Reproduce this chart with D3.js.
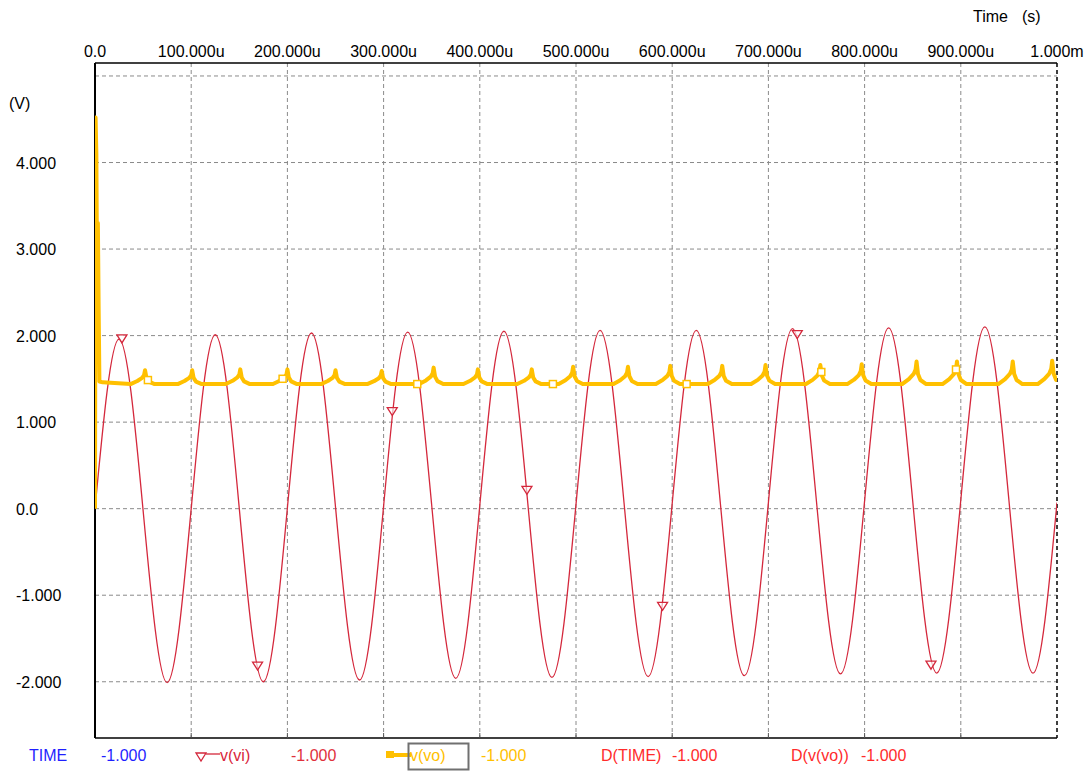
<!DOCTYPE html>
<html>
<head>
<meta charset="utf-8">
<script src="https://cdn.jsdelivr.net/npm/d3@7"></script>
<style>
  html, body { margin: 0; padding: 0; background: #fff; }
  svg text { font-family: "Liberation Sans", Arial, sans-serif; font-size: 16px; }
</style>
</head>
<body>
<div id="chart"></div>
<script>
// time in microseconds, volts
var xTicks = [0, 100, 200, 300, 400, 500, 600, 700, 800, 900, 1000];
var xTickLabels = ['0.0', '100.000u', '200.000u', '300.000u', '400.000u', '500.000u',
                   '600.000u', '700.000u', '800.000u', '900.000u', '1.000m'];
var yTicks = [4, 3, 2, 1, 0, -1, -2];
var yTickLabels = ['4.000', '3.000', '2.000', '1.000', '0.0', '-1.000', '-2.000'];
var yGrid = [5, 4, 3, 2, 1, 0, -1, -2];

// v(vi): read at every quarter period (zero, peak, zero, trough ...)
var viTime = [0, 25, 50, 75, 100, 125, 150, 175, 200, 225, 250, 275, 300, 325, 350, 375,
              400, 425, 450, 475, 500, 525, 550, 575, 600, 625, 650, 675, 700, 725, 750, 775,
              800, 825, 850, 875, 900, 925, 950, 975, 1000];
var viVolt = [0, 1.96, -0.02, -2.01, 0.0, 2.01, 0.0, -2.0, 0.01, 2.03, 0.02, -1.98, 0.03, 2.04, 0.04, -1.96,
              0.04, 2.05, 0.05, -1.95, 0.05, 2.06, 0.06, -1.94, 0.06, 2.06, 0.07, -1.93, 0.07, 2.08, 0.08, -1.91,
              0.09, 2.09, 0.09, -1.90, 0.10, 2.10, 0.10, -1.90, 0.07];

// v(vi) trace markers
var viMarkTime = [28, 169, 309, 449, 590, 730, 869];
var viMarkVolt = [1.95, -1.83, 1.11, 0.20, -1.14, 2.0, -1.82];

// v(vo): start-up spike, then ripple cusps near each zero crossing of vi
var voStartTime = [0, 0.6, 1.4, 2.2, 3.0, 3.8, 4.6, 8];
var voStartVolt = [0, 4.52, 4.1, 2.6, 3.3, 2.3, 1.47, 1.46];
var voCuspTime = [52, 101, 151, 200, 250, 298, 352, 398, 454, 497,
                  554, 598, 652, 697, 754, 797, 854, 896, 954, 995];
var voCuspVolt = [1.60, 1.60, 1.61, 1.61, 1.60, 1.59, 1.63, 1.61, 1.61, 1.64,
                  1.64, 1.65, 1.65, 1.66, 1.66, 1.67, 1.70, 1.70, 1.70, 1.71];
var voBase = 1.44;
var voEndVolt = 1.52;
// cusp profile: offset from cusp (us), fraction of the cusp height above base
var bumpOffset = [-15, -8, -3, -1, 0, 1.5, 4, 10];
var bumpFrac = [0, 0.22, 0.45, 0.65, 1, 0.45, 0.18, 0];
var voMarkTime = [55, 195, 335, 476, 615, 755, 895];

// legend entries
var legendItems = [
    { text: 'TIME', x: 29, color: '#1f1fff' },
    { text: '-1.000', x: 101, color: '#1f1fff' },
    { text: 'v(vi)', x: 220, color: '#d9263a' },
    { text: '-1.000', x: 291, color: '#e0303c' },
    { text: 'v(vo)', x: 410, color: '#ffc000' },
    { text: '-1.000', x: 481, color: '#ffc000' },
    { text: 'D(TIME)', x: 601, color: '#ff2b2b' },
    { text: '-1.000', x: 672, color: '#ff2b2b' },
    { text: 'D(v(vo))', x: 791, color: '#ff2b2b' },
    { text: '-1.000', x: 861, color: '#ff2b2b' }
];

var width = 1087, height = 771;
var plot = { left: 95, right: 1057, top: 63, bottom: 738 };
var viColor = '#d4283c', voColor = '#ffc000', gridColor = '#8a8a8a';

var svg = d3.select('#chart')
    .append('svg')
    .attr('width', width)
    .attr('height', height);

var x = d3.scaleLinear().domain([0, 1000]).range([plot.left, plot.right]);
var y = d3.scaleLinear().domain([-2.65, 5.15]).range([plot.bottom, plot.top]);

svg.append('defs').append('clipPath').attr('id', 'plotclip')
    .append('rect')
    .attr('x', plot.left).attr('y', plot.top)
    .attr('width', plot.right - plot.left).attr('height', plot.bottom - plot.top);

//grid
svg.append('g').selectAll('line.vg')
    .data(xTicks.slice(1, -1))
    .enter().append('line')
    .attr('x1', function(d){ return x(d); })
    .attr('x2', function(d){ return x(d); })
    .attr('y1', plot.top).attr('y2', plot.bottom)
    .attr('stroke', gridColor).attr('stroke-dasharray', '4,3');

svg.append('g').selectAll('line.hg')
    .data(yGrid)
    .enter().append('line')
    .attr('x1', plot.left).attr('x2', plot.right)
    .attr('y1', function(d){ return y(d); })
    .attr('y2', function(d){ return y(d); })
    .attr('stroke', gridColor).attr('stroke-dasharray', '4,3');

//frame
svg.append('line').attr('x1', plot.left).attr('x2', plot.right)
    .attr('y1', plot.top).attr('y2', plot.top)
    .attr('stroke', '#000').attr('stroke-width', 1.5);
svg.append('line').attr('x1', plot.left).attr('x2', plot.right)
    .attr('y1', plot.bottom).attr('y2', plot.bottom)
    .attr('stroke', '#000').attr('stroke-width', 1.5);
svg.append('line').attr('x1', plot.left).attr('x2', plot.left)
    .attr('y1', plot.top).attr('y2', plot.bottom)
    .attr('stroke', '#000').attr('stroke-width', 2);
svg.append('line').attr('x1', plot.right).attr('x2', plot.right)
    .attr('y1', plot.top).attr('y2', plot.bottom)
    .attr('stroke', '#000').attr('stroke-width', 1.5)
    .attr('stroke-dasharray', '4,3');

//small ticks along the bottom edge
svg.append('g').selectAll('line.bt')
    .data(xTicks.slice(1, -1))
    .enter().append('line')
    .attr('x1', function(d){ return x(d); })
    .attr('x2', function(d){ return x(d); })
    .attr('y1', plot.bottom - 5).attr('y2', plot.bottom)
    .attr('stroke', '#555');

//axis labels
svg.append('g').selectAll('text')
    .data(xTicks)
    .enter().append('text')
    .attr('x', function(d){ return x(d); })
    .attr('y', 57)
    .attr('text-anchor', 'middle')
    .attr('fill', '#000')
    .text(function(d, i){ return xTickLabels[i]; });

svg.append('g').selectAll('text')
    .data(yTicks)
    .enter().append('text')
    .attr('x', 16)
    .attr('y', function(d){ return y(d) + 6; })
    .attr('fill', '#000')
    .text(function(d, i){ return yTickLabels[i]; });

svg.append('text').attr('x', 973).attr('y', 22).attr('fill', '#000').text('Time');
svg.append('text').attr('x', 1022).attr('y', 22).attr('fill', '#000').text('(s)');
svg.append('text').attr('x', 9).attr('y', 109).attr('fill', '#000').text('(V)');

//build the v(vo) trace from the start-up part and the cusps
var voData = voStartTime.map(function(t, i){ return [t, voStartVolt[i]]; });
voCuspTime.forEach(function(tc, i){
    bumpOffset.forEach(function(dt, j){
        var t = tc + dt;
        if( t <= voData[voData.length - 1][0] || t >= 1000 ){
            return;
        }
        voData.push([t, voBase + bumpFrac[j] * (voCuspVolt[i] - voBase)]);
    });
});
voData.push([1000, voEndVolt]);

var viData = viTime.map(function(t, i){ return [t, viVolt[i]]; });

var traces = svg.append('g').attr('clip-path', 'url(#plotclip)');

traces.append('path')
    .datum(viData)
    .attr('fill', 'none')
    .attr('stroke', viColor)
    .attr('stroke-width', 1.3)
    .attr('d', d3.line()
        .x(function(d){ return x(d[0]); })
        .y(function(d){ return y(d[1]); })
        .curve(d3.curveNatural));

traces.append('path')
    .datum(voData)
    .attr('fill', 'none')
    .attr('stroke', voColor)
    .attr('stroke-width', 4)
    .attr('stroke-linejoin', 'round')
    .attr('d', d3.line()
        .x(function(d){ return x(d[0]); })
        .y(function(d){ return y(d[1]); }));

//markers
var triangle = function(cx, cy){
    return 'M' + (cx - 5) + ',' + (cy - 5) + 'L' + (cx + 5) + ',' + (cy - 5) + 'L' + cx + ',' + (cy + 3) + 'Z';
};

traces.append('g').selectAll('path')
    .data(viMarkTime)
    .enter().append('path')
    .attr('d', function(d, i){ return triangle(x(d), y(viMarkVolt[i])); })
    .attr('fill', '#fff').attr('fill-opacity', 0.6)
    .attr('stroke', viColor).attr('stroke-width', 1.3);

var bisect = d3.bisector(function(d){ return d[0]; }).left;
var voAt = function(t){
    var i = bisect(voData, t), a = voData[i - 1], b = voData[i];
    return a[1] + (b[1] - a[1]) * (t - a[0]) / (b[0] - a[0]);
};

traces.append('g').selectAll('rect')
    .data(voMarkTime)
    .enter().append('rect')
    .attr('x', function(d){ return x(d) - 3.5; })
    .attr('y', function(d){ return y(voAt(d)) - 3.5; })
    .attr('width', 7).attr('height', 7)
    .attr('fill', '#fff')
    .attr('stroke', voColor).attr('stroke-width', 1.5);

//legend
var legendY = 761;
svg.append('g').selectAll('text')
    .data(legendItems)
    .enter().append('text')
    .attr('x', function(d){ return d.x; })
    .attr('y', legendY)
    .attr('fill', function(d){ return d.color; })
    .text(function(d){ return d.text; });

svg.append('path').attr('d', triangle(201, 758))
    .attr('fill', 'none').attr('stroke', viColor).attr('stroke-width', 1.3);
svg.append('line').attr('x1', 206).attr('x2', 220).attr('y1', 754).attr('y2', 754)
    .attr('stroke', viColor).attr('stroke-width', 1.3);

svg.append('rect').attr('x', 386).attr('y', 751).attr('width', 8).attr('height', 7)
    .attr('fill', voColor);
svg.append('line').attr('x1', 392).attr('x2', 411).attr('y1', 755).attr('y2', 755)
    .attr('stroke', voColor).attr('stroke-width', 4);
svg.append('rect').attr('x', 408.5).attr('y', 743.5).attr('width', 60).attr('height', 26)
    .attr('fill', 'none').attr('stroke', '#707070').attr('stroke-width', 2);
</script>
</body>
</html>
